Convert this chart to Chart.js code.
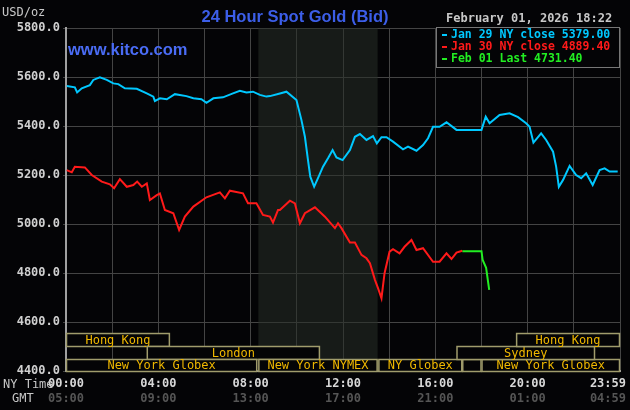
<!DOCTYPE html>
<html><head><meta charset="utf-8">
<script src="https://cdn.jsdelivr.net/npm/chart.js@4.4.1/dist/chart.umd.min.js"></script>
<style>html,body{margin:0;padding:0;background:#040406;}#wrap{width:630px;height:410px;}</style>
</head><body><div id="wrap"><canvas id="c" width="630" height="410"></canvas></div>
<script>
const blueT = [2,23,29,41,62,71,88,106,123,136,153,184,210,227,231,244,262,283,313,331,352,365,383,408,434,452,469,486,504,521,530,556,573,599,612,621,629,635,645,655,668,681,693,703,719,738,751,764,781,798,808,820,833,850,876,889,911,928,941,954,971,989,1015,1080,1091,1101,1127,1153,1175,1196,1205,1215,1235,1248,1266,1274,1281,1292,1309,1326,1339,1352,1369,1387,1400,1413,1434];
const blueV = [5563,5558,5537,5554,5567,5588,5599,5588,5574,5571,5554,5552,5533,5520,5502,5513,5509,5530,5522,5513,5509,5495,5513,5517,5533,5544,5537,5540,5527,5520,5522,5533,5540,5506,5424,5356,5261,5193,5152,5187,5234,5268,5302,5272,5261,5302,5356,5367,5343,5359,5329,5354,5354,5336,5305,5316,5299,5322,5350,5397,5397,5415,5384,5384,5438,5411,5445,5452,5436,5411,5397,5332,5370,5343,5295,5234,5152,5180,5237,5200,5187,5207,5159,5220,5227,5214,5214];
const redT = [2,15,23,49,67,93,114,125,140,158,175,185,197,210,218,236,244,257,279,294,309,331,365,400,413,426,460,473,495,512,530,538,551,556,582,595,608,621,647,673,699,707,716,738,751,768,781,790,803,811,820,828,841,850,867,880,898,911,928,954,971,989,1002,1015,1030];
const redV = [5220,5211,5234,5231,5200,5173,5162,5146,5183,5152,5159,5173,5152,5166,5098,5118,5125,5057,5044,4976,5030,5071,5109,5129,5105,5136,5125,5085,5085,5037,5030,5006,5057,5057,5095,5084,5003,5044,5068,5030,4983,5003,4983,4924,4924,4874,4860,4840,4772,4738,4697,4799,4887,4897,4880,4907,4935,4894,4901,4846,4846,4880,4857,4883,4891];
const greenT = [1030,1080,1083,1092,1100];
const greenV = [4889,4889,4853,4821,4731];
const nyLabels = ["00:00","04:00","08:00","12:00","16:00","20:00","23:59"];
const gmtLabels = ["05:00","09:00","13:00","17:00","21:00","01:00","04:59"];
const labelTimes = [0,240,480,720,960,1200,1439];
const legendTexts = ["Jan 29 NY close 5379.00","Jan 30 NY close 4889.40","Feb 01 Last 4731.40"];
const sessionNames = ["Hong Kong","London","New York Globex","New York NYMEX","NY Globex","","New York Globex","Sydney","Hong Kong"];
const sessionStart = [0,210,0,500,812,1030,1080,1015,1170];
const sessionEnd = [270,660,497,810,1030,1080,1440,1375,1440];
const sessionRow = [0,1,2,2,2,2,2,1,0];

const pts=(t,v)=>t.map((x,i)=>({x:x,y:v[i]}));
const MONO='"DejaVu Sans Mono", monospace';
const deco={id:'deco',
 beforeDatasetsDraw(ch){const c=ch.ctx,x=ch.scales.x,y=ch.scales.y,a=ch.chartArea;
  c.save();c.fillStyle='rgba(40,48,40,0.55)';
  c.fillRect(x.getPixelForValue(500),a.top,x.getPixelForValue(810)-x.getPixelForValue(500),a.bottom-a.top);
  c.restore();},
 afterDatasetsDraw(ch){const c=ch.ctx,x=ch.scales.x,y=ch.scales.y,a=ch.chartArea;
  c.save();
  const rowTop=[4555,4502,4449],rowBot=[4502,4449,4400];
  c.font='12px '+MONO;c.textAlign='center';c.textBaseline='middle';
  sessionNames.forEach((n,i)=>{const r=sessionRow[i];
   const x0=x.getPixelForValue(sessionStart[i]),x1=x.getPixelForValue(sessionEnd[i]);
   const y0=y.getPixelForValue(rowTop[r]),y1=y.getPixelForValue(rowBot[r]);
   c.fillStyle='#040406';c.fillRect(x0,y0,x1-x0,y1-y0);
   c.strokeStyle='#a09c6c';c.lineWidth=1.5;c.strokeRect(x0+0.5,y0+0.5,x1-x0-1,y1-y0);
   c.fillStyle='#f0b800';if(n)c.fillText(n,(x0+x1)/2,(y0+y1)/2+1);});
  c.fillStyle='#040406';c.fillRect(436,27,184,40);
  c.strokeStyle='#777';c.lineWidth=1;c.strokeRect(436.5,27.5,183,40);
  const cols=['#00c8ff','#ff1a1a','#22ee22'];
  c.font='bold 11.5px '+MONO;c.textAlign='left';c.textBaseline='middle';
  legendTexts.forEach((t,i)=>{c.fillStyle=cols[i];c.fillRect(442,34+i*12,5,2);c.fillText(t,451,35+i*12);});
  c.font='bold 16.5px "Liberation Sans", Arial';c.fillStyle='#3c5ee8';c.textAlign='center';c.textBaseline='alphabetic';
  c.fillText('24 Hour Spot Gold (Bid)',295,22);
  c.textAlign='left';c.fillStyle='#4a6cf5';c.fillText('www.kitco.com',68,55);
  c.font='12px '+MONO;c.fillStyle='#c8c8c8';c.fillText('USD/oz',2,16);
  c.font='bold 12px '+MONO;c.fillText('February 01, 2026 18:22',446,22);
  labelTimes.forEach((t,i)=>{let px=x.getPixelForValue(t);
   if(i===labelTimes.length-1){c.textAlign='right';px=626;}else c.textAlign='center';
   c.fillStyle='#d8d8d8';c.fillText(nyLabels[i],px,387);
   c.fillStyle='#555';c.fillText(gmtLabels[i],px,402);});
  c.font='12px '+MONO;c.fillStyle='#c8c8c8';c.textAlign='left';
  c.fillText('NY Time',3,388);c.fillText('GMT',12,402);
  c.restore();}};
new Chart(document.getElementById('c'),{type:'line',
 data:{datasets:[
  {data:pts(blueT,blueV),borderColor:'#00c8ff',borderWidth:2,pointRadius:0,tension:0},
  {data:pts(redT,redV),borderColor:'#ff1a1a',borderWidth:2,pointRadius:0,tension:0},
  {data:pts(greenT,greenV),borderColor:'#22ee22',borderWidth:2,pointRadius:0,tension:0}]},
 options:{responsive:false,animation:false,devicePixelRatio:1,
  layout:{padding:{left:0,right:10,top:28,bottom:39}},
  plugins:{legend:{display:false},tooltip:{enabled:false}},
  scales:{
   x:{type:'linear',min:0,max:1440,ticks:{display:false,stepSize:120},border:{color:'#a0a0a0',width:2},grid:{color:'#444',lineWidth:1,drawTicks:false}},
   y:{min:4400,max:5800,afterFit(s){s.width=66;},border:{color:'#a0a0a0',width:2},
    ticks:{stepSize:200,color:'#d0d0d0',font:{family:'DejaVu Sans Mono',size:12,weight:'bold'},padding:3,callback:v=>v.toFixed(1)},
    grid:{color:'#444',lineWidth:1,drawTicks:true,tickLength:3}}}},
 plugins:[deco]});
</script></body></html>
